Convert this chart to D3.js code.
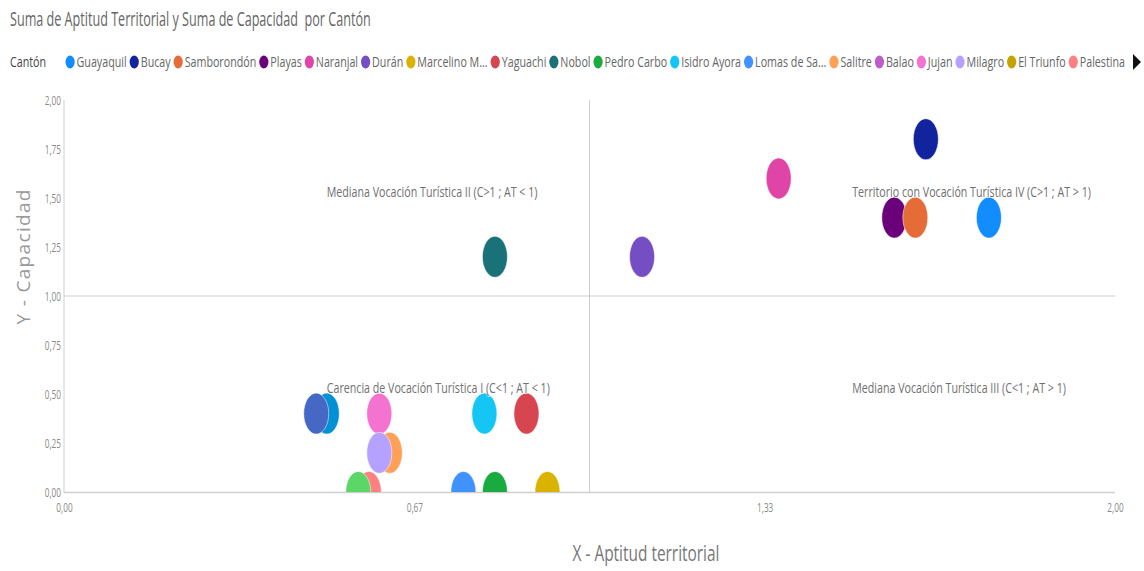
<!DOCTYPE html>
<html>
<head>
<meta charset="utf-8">
<script src="https://cdn.jsdelivr.net/npm/d3@7"></script>
<style>
  body { margin: 0; background: #fff; }
  svg { display: block; }
  text { font-family: "Open Sans", "Noto Sans", sans-serif; white-space: pre; }
</style>
</head>
<body>
<svg id="chart" width="1144" height="571"></svg>
<script>
// ---- Data ----------------------------------------------------------------
const titulo = "Suma de Aptitud Territorial y Suma de Capacidad  por Cantón";
const legendTitle = "Cantón";

// Legend order of the cantons and their series colours
const cantones = [
  "Guayaquil", "Bucay", "Samborondón", "Playas", "Naranjal", "Durán",
  "Marcelino Maridueña", "Yaguachi", "Nobol", "Pedro Carbo", "Isidro Ayora",
  "Lomas de Sargentillo", "Salitre", "Balao", "Jujan", "Milagro", "El Triunfo",
  "Palestina", "Balzar", "Daule", "Santa Lucía", "Simón Bolívar"
];
const colores = [
  "#118DFF", "#12239E", "#E66C37", "#6B007B", "#E044A7", "#744EC2",
  "#D9B300", "#D64550", "#197278", "#1AAB40", "#15C6F4",
  "#4092FF", "#FFA058", "#BE5DC9", "#F472D0", "#B5A1FF", "#C4A200",
  "#FF8080", "#00DBBC", "#5BD667", "#0091D5", "#4668C5"
];
const legendVisible = 18;

// One point per canton (drawing order)
const puntoCanton = [
  "Guayaquil", "Bucay", "Playas", "Samborondón", "Naranjal", "Durán",
  "Marcelino Maridueña", "Yaguachi", "Nobol", "Pedro Carbo", "Isidro Ayora",
  "Lomas de Sargentillo", "Salitre", "Jujan", "Milagro", "Palestina",
  "Daule", "Santa Lucía", "Simón Bolívar"
];
const aptitud = [
  1.76, 1.64, 1.58, 1.62, 1.36, 1.10,
  0.92, 0.88, 0.82, 0.82, 0.80,
  0.76, 0.62, 0.60, 0.60, 0.58,
  0.56, 0.50, 0.48
];
const capacidad = [
  1.40, 1.80, 1.40, 1.40, 1.60, 1.20,
  0.00, 0.40, 1.20, 0.00, 0.40,
  0.00, 0.20, 0.40, 0.20, 0.00,
  0.00, 0.40, 0.40
];

const xTicks = [0, 2 / 3, 4 / 3, 2];
const yTicks = [0, 0.25, 0.5, 0.75, 1, 1.25, 1.5, 1.75, 2];
const umbralX = 1;
const umbralY = 1;

const cuadrantes = [
  "Mediana Vocación Turística II (C>1 ; AT < 1)",
  "Territorio con Vocación Turística IV (C>1 ; AT > 1)",
  "Carencia de Vocación Turística I (C<1 ; AT < 1)",
  "Mediana Vocación Turística III (C<1 ; AT > 1)"
];
const cuadranteX = [0.5, 1.5, 0.5, 1.5];
const cuadranteY = [1.5, 1.5, 0.5, 0.5];

const xTitle = "X - Aptitud territorial";
const yTitle = "Y - Capacidad";

// ---- Layout --------------------------------------------------------------
const svg = d3.select("#chart");
const plot = { left: 64, right: 1115, top: 100, bottom: 492 };

const x = d3.scaleLinear().domain([0, 2]).range([plot.left, plot.right]);
const y = d3.scaleLinear().domain([0, 2]).range([plot.bottom, plot.top]);
const color = d3.scaleOrdinal().domain(cantones).range(colores);
const fmt = v => d3.format(".2f")(v).replace(".", ",");

// Text in this visual is rendered narrow; every horizontal label is squeezed along x.
function naturalWidth(str, size) {
  const t = svg.append("text").attr("font-size", size).text(str);
  const w = t.node().getComputedTextLength();
  t.remove();
  return w;
}
function label(parent, px, py, str, o) {
  const g = parent.append("g")
    .attr("transform", `translate(${px},${py}) scale(${o.k},1)`);
  return g.append("text")
    .attr("font-size", o.size)
    .attr("fill", o.color)
    .attr("text-anchor", o.anchor || "start")
    .text(str);
}

// Title
const titleSize = 19.5;
const kTitle = 361 / naturalWidth(titulo, titleSize);
label(svg, 10, 26, titulo, { k: kTitle, size: titleSize, color: "#666" });

// Legend
const legSize = 14;
const legNames = cantones.slice(0, legendVisible)
  .map(n => n.length > 12 ? n.slice(0, 11) + "..." : n);
const legNatural = d3.sum(legNames, n => naturalWidth(n, legSize)) +
  naturalWidth(legendTitle, legSize);
const gapTitle = 24, dotToText = 6.5, textToDot = 7.5;
const kLeg = (1125 - 10 - gapTitle - legendVisible * dotToText -
  (legendVisible - 1) * textToDot) / legNatural;
const legY = 62;
const legend = svg.append("g");
label(legend, 10, legY + 5, legendTitle, { k: kLeg, size: legSize, color: "#444" });
let cx = 10 + naturalWidth(legendTitle, legSize) * kLeg + gapTitle;
legNames.forEach((n, i) => {
  legend.append("ellipse")
    .attr("cx", cx).attr("cy", legY)
    .attr("rx", 4.6).attr("ry", 6.5)
    .attr("fill", colores[i]);
  const tx = cx + dotToText;
  label(legend, tx, legY + 5, n, { k: kLeg, size: legSize, color: "#666" });
  cx = tx + naturalWidth(n, legSize) * kLeg + textToDot;
});
// scroll arrow
legend.append("path")
  .attr("d", d3.line()([[1133, 54], [1141, 62], [1133, 70]]) + "Z")
  .attr("fill", "#111");

// Axes (lines only, labels restyled below)
const tickK = 0.66, tickSize = 12.5;
const yAxis = svg.append("g")
  .attr("transform", `translate(${plot.left},0)`)
  .call(d3.axisLeft(y).tickValues(yTicks).tickFormat(fmt).tickSize(0).tickPadding(0));
const xAxis = svg.append("g")
  .attr("transform", `translate(0,${plot.bottom})`)
  .call(d3.axisBottom(x).tickValues(xTicks).tickFormat(fmt).tickSize(0).tickPadding(0));
[yAxis, xAxis].forEach(a => a.select(".domain").remove());
yAxis.selectAll(".tick text")
  .attr("x", null).attr("dy", null)
  .attr("transform", `translate(-3,4) scale(${tickK},1)`)
  .attr("font-size", tickSize).attr("font-family", null)
  .attr("fill", "#8a8a8a").attr("text-anchor", "end");
xAxis.selectAll(".tick text")
  .attr("y", null).attr("dy", null)
  .attr("transform", `translate(0,20) scale(${tickK},1)`)
  .attr("font-size", tickSize).attr("font-family", null)
  .attr("fill", "#8a8a8a").attr("text-anchor", "middle");

const lines = svg.append("g").attr("stroke", "#cfcfcf").attr("fill", "none");
lines.append("line")
  .attr("x1", plot.left).attr("x2", plot.left)
  .attr("y1", plot.top).attr("y2", plot.bottom + 1);
lines.append("line")
  .attr("x1", x(umbralX)).attr("x2", x(umbralX))
  .attr("y1", plot.top).attr("y2", plot.bottom);
lines.append("line")
  .attr("x1", plot.left).attr("x2", plot.right)
  .attr("y1", y(umbralY)).attr("y2", y(umbralY));
lines.append("line")
  .attr("x1", plot.left).attr("x2", plot.right)
  .attr("y1", plot.bottom + 0.5).attr("y2", plot.bottom + 0.5)
  .attr("stroke-width", 1.5);

// Points
svg.append("clipPath").attr("id", "plotClip")
  .append("rect")
  .attr("x", plot.left).attr("y", plot.top - 30)
  .attr("width", plot.right - plot.left).attr("height", plot.bottom - plot.top + 30);

const puntos = puntoCanton.map((c, i) => ({ c, ax: aptitud[i], cap: capacidad[i] }));
svg.append("g").attr("clip-path", "url(#plotClip)")
  .selectAll("ellipse").data(puntos).join("ellipse")
  .attr("cx", d => x(d.ax))
  .attr("cy", d => y(d.cap))
  .attr("rx", 12.5).attr("ry", 20.5)
  .attr("fill", d => color(d.c))
  .attr("stroke", "#fff").attr("stroke-opacity", 0.5).attr("stroke-width", 1);

// Quadrant labels
const qSize = 15;
const kQ = 211 / naturalWidth(cuadrantes[0], qSize);
cuadrantes.forEach((q, i) => {
  label(svg, x(cuadranteX[i]), y(cuadranteY[i]) - 1, q, { k: kQ, size: qSize, color: "#707070" })
    .attr("stroke", "#fff").attr("stroke-width", 2).attr("stroke-opacity", 0.6)
    .attr("paint-order", "stroke");
});

// Axis titles
const xtSize = 21;
const kXt = 147 / naturalWidth(xTitle, xtSize);
label(svg, 646, 561, xTitle, { k: kXt, size: xtSize, color: "#777", anchor: "middle" });

svg.append("text")
  .attr("transform", "translate(30,257) rotate(-90)")
  .attr("font-size", 19)
  .attr("fill", "#999")
  .attr("text-anchor", "middle")
  .attr("textLength", 135)
  .attr("lengthAdjust", "spacing")
  .text(yTitle);
</script>
</body>
</html>
